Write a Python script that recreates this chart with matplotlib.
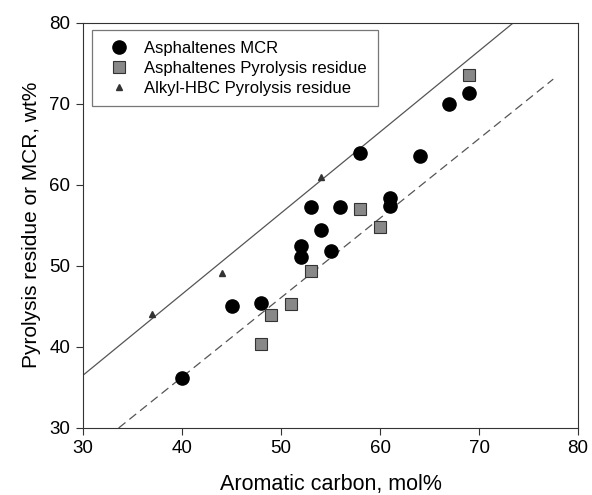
import numpy as np
import matplotlib.pyplot as plt

plt.rcParams['font.family'] = ['Liberation Sans', 'DejaVu Sans']

# Asphaltenes MCR
mcr_x = [40, 45, 48, 52, 52, 53, 54, 55, 56, 58, 61, 61, 64, 67, 69]
mcr_y = [36.2, 45.0, 45.4, 51.1, 52.5, 57.3, 54.4, 51.8, 57.2, 63.9, 57.4, 58.4, 63.6, 69.9, 71.3]

# Asphaltenes pyrolysis residue
pyr_x = [48, 49, 51, 53, 58, 60, 69]
pyr_y = [40.4, 43.9, 45.3, 49.4, 57.0, 54.8, 73.5]

# Alkyl-HBC pyrolysis residue
hbc_x = [37, 44, 54]
hbc_y = [44.1, 49.1, 61.0]

# guide lines
solid_x = [30, 73.5]
solid_slope, solid_int = 1.0, 6.5
dash_x = [33.6, 77.5]
dash_slope, dash_int = 0.98, -2.93

fig = plt.figure(figsize=(5.92, 4.95), dpi=100)
ax = fig.add_axes([0.1402, 0.1354, 0.8362, 0.8191])

ax.plot(solid_x, solid_slope * np.array(solid_x) + solid_int, color='#555555', lw=0.9)
ax.plot(dash_x, dash_slope * np.array(dash_x) + dash_int, color='#555555', lw=0.9,
        ls=(0, (7, 4)))

ax.plot(mcr_x, mcr_y, 'o', color='black', ms=9.5, ls='none', label='Asphaltenes MCR')
ax.plot(pyr_x, pyr_y, 's', mfc='#888888', mec='#333333', mew=0.8, ms=8, ls='none',
        label='Asphaltenes Pyrolysis residue')
ax.plot(hbc_x, hbc_y, '^', color='#333333', ms=5, ls='none', label='Alkyl-HBC Pyrolysis residue')

ax.set_xlim(30, 80)
ax.set_ylim(30, 80)
ax.set_xticks(np.arange(30, 81, 10))
ax.set_yticks(np.arange(30, 81, 10))
ax.tick_params(direction='out', length=5, labelsize=13.5, color='#333333', pad=4)
for s in ax.spines.values():
    s.set_color('#333333')

ax.set_xlabel('Aromatic carbon, mol%', fontsize=15.5, labelpad=12)
ax.set_ylabel('Pyrolysis residue or MCR, wt%', fontsize=15, labelpad=6)

leg = ax.legend(loc='upper left', fontsize=12, fancybox=False, edgecolor='#555555',
                borderpad=0.65, handletextpad=0.5, labelspacing=0.3, borderaxespad=0,
                bbox_to_anchor=(0.018, 0.982))
leg.get_frame().set_linewidth(0.9)

fig.savefig('out.png', dpi=100)
